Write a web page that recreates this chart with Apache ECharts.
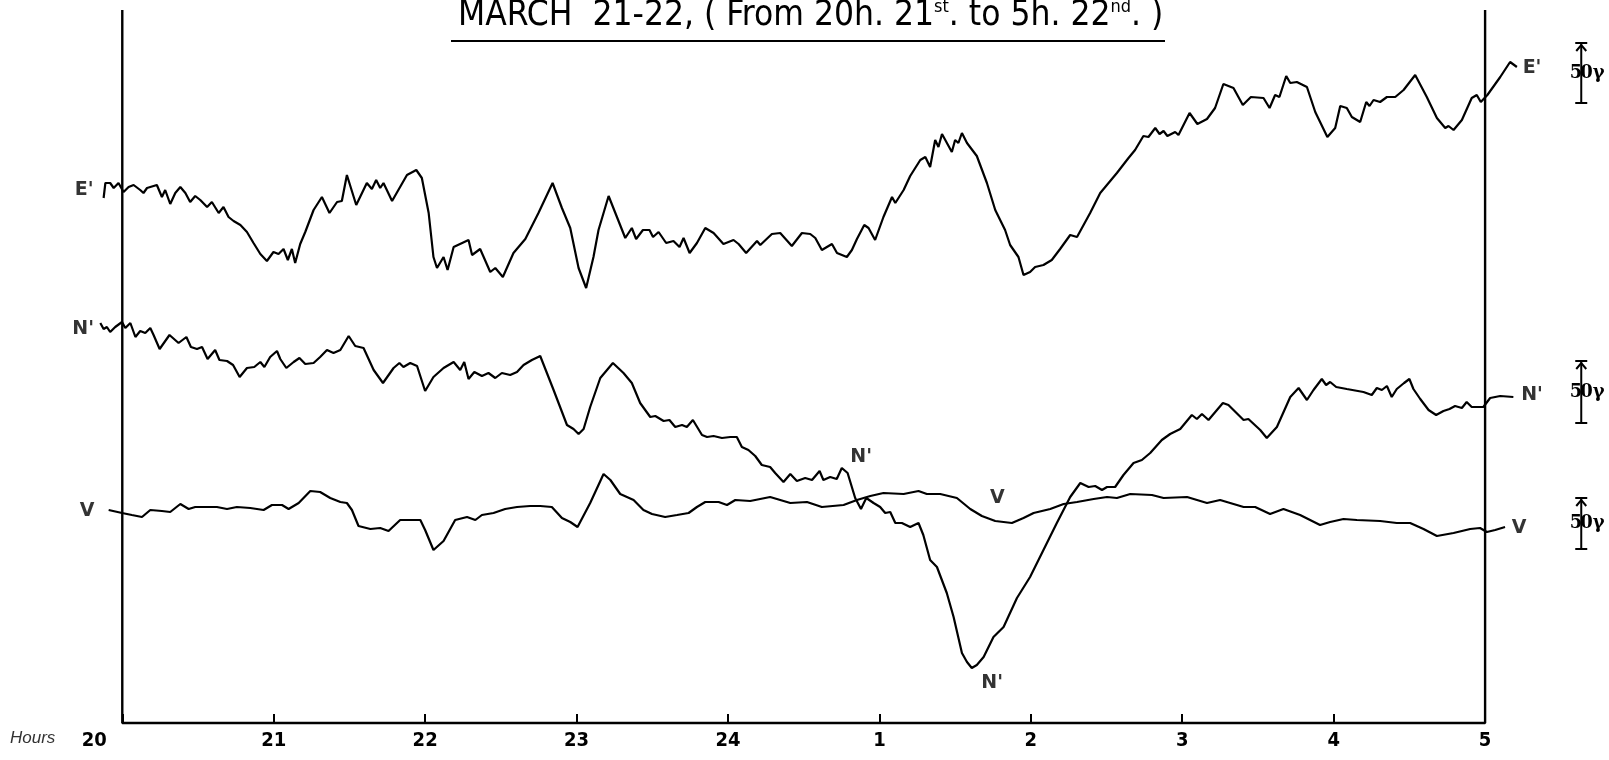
<!DOCTYPE html>
<html>
<head>
<meta charset="utf-8">
<script src="https://cdn.jsdelivr.net/npm/echarts@6/dist/echarts.min.js"></script>
<style>
  html, body { margin: 0; padding: 0; background: #fff; }
  #chart { width: 1609px; height: 760px; }
</style>
</head>
<body>
<div id="chart"></div>
<script>
// time axis: minutes after 20h (0 .. 540 = 5h next day)
var hourTicks = [0, 60, 120, 180, 240, 300, 360, 420, 480, 540];
var hourLabels = ['20', '21', '22', '23', '24', '1', '2', '3', '4', '5'];

var eTime = [-7.4, -6.7, -4.8, -3.4, -1.5, 0.5, 2.5, 4.5, 7.1, 8.4, 9.8, 13.7, 15.7, 17.0, 19.0, 21.0, 23.0, 25.0, 26.9, 28.9,
  30.9, 33.6, 35.5, 38.2, 40.1, 42.1, 44.1, 46.8, 49.4, 52.0, 54.7, 57.3, 59.9, 61.9, 63.9, 65.6, 67.2, 68.5, 70.5, 72.5,
  75.8, 79.1, 82.1, 85.1, 87.0, 89.0, 92.7, 96.9, 98.9, 100.6, 102.2, 103.5, 106.9, 112.8, 116.5, 118.7, 121.4, 123.3, 124.7, 127.3,
  128.9, 131.3, 137.2, 138.6, 141.8, 145.8, 147.8, 150.8, 155.0, 159.7, 164.9, 170.5, 174.2, 177.5, 180.8, 183.8, 186.7, 188.7, 192.7, 196.0,
  199.3, 201.9, 203.6, 206.3, 208.9, 210.3, 212.5, 215.5, 218.4, 220.8, 222.4, 224.8, 227.7, 231.0, 234.3, 238.2, 242.2, 244.2, 247.2, 251.5,
  252.8, 257.4, 260.7, 265.3, 269.3, 272.6, 274.6, 277.2, 281.2, 283.2, 287.1, 289.1, 291.1, 294.0, 295.7, 298.3, 301.6, 305.0, 306.3, 309.6,
  312.2, 316.2, 318.2, 320.1, 322.1, 323.4, 324.8, 328.7, 330.0, 331.3, 332.7, 334.7, 338.6, 342.6, 345.9, 349.8, 351.8, 355.1, 357.1, 359.7,
  361.7, 365.0, 368.3, 371.6, 375.6, 378.3, 383.5, 387.5, 390.8, 394.1, 398.7, 401.3, 404.6, 406.6, 409.3, 411.0, 412.6, 414.1, 417.2, 418.5,
  422.9, 426.0, 429.8, 433.0, 436.3, 440.3, 444.0, 447.2, 452.2, 454.6, 456.8, 458.5, 461.2, 462.8, 465.4, 469.4, 472.7, 477.5, 480.6, 482.6,
  485.2, 487.2, 490.5, 492.9, 494.2, 495.8, 498.4, 501.1, 504.4, 507.7, 512.3, 516.9, 520.9, 524.2, 525.5, 527.5, 530.8, 534.7, 536.7, 538.3,
  540.9, 546.0, 549.9, 552.6];
var eVal = [525, 540, 540, 535, 540, 531, 536, 538, 533, 530, 535, 538, 526, 533, 519, 530, 536, 530, 521, 527,
  523, 516, 521, 510, 516, 506, 502, 498, 491, 480, 469, 462, 471, 469, 474, 463, 474, 460, 479, 491,
  513, 526, 510, 521, 522, 548, 518, 540, 534, 543, 535, 540, 522, 548, 553, 545, 510, 466, 455, 466,
  453, 476, 483, 468, 474, 451, 455, 446, 470, 484, 510, 540, 515, 495, 455, 435, 466, 493, 527, 506,
  485, 495, 484, 493, 493, 486, 491, 480, 482, 476, 485, 470, 480, 495, 490, 479, 483, 479, 470, 482,
  478, 489, 490, 477, 490, 489, 485, 473, 479, 470, 466, 473, 484, 498, 495, 483, 506, 526, 520, 533,
  547, 563, 566, 556, 583, 576, 589, 571, 583, 580, 590, 580, 567, 540, 513, 493, 478, 466, 448, 451,
  456, 458, 463, 474, 488, 486, 510, 530, 540, 550, 565, 573, 587, 586, 595, 589, 592, 587, 591, 588,
  610, 599, 604, 615, 639, 635, 618, 626, 625, 615, 628, 626, 647, 640, 641, 636, 611, 586, 595, 617,
  615, 606, 601, 621, 617, 623, 621, 626, 626, 633, 648, 626, 605, 595, 597, 593, 603, 625, 628, 621,
  628, 646, 661, 656];

var nTime = [-8.7, -7.4, -6.1, -4.8, -2.8, -0.1, 1.2, 3.2, 5.2, 7.1, 9.1, 11.1, 12.4, 14.8, 18.7, 22.3, 25.4, 27.2, 29.6, 31.6,
  33.8, 36.8, 38.5, 41.5, 43.9, 46.5, 49.4, 52.3, 54.7, 56.3, 58.6, 61.3, 62.6, 65.0, 67.9, 70.2, 72.5, 75.8, 78.4, 81.1,
  83.7, 86.4, 89.7, 92.3, 95.6, 99.6, 103.3, 107.5, 109.8, 111.4, 114.1, 116.8, 120.0, 123.3, 127.3, 131.3, 133.9, 135.5, 137.2, 139.5,
  142.5, 145.1, 147.8, 150.4, 153.7, 156.4, 159.0, 162.3, 165.6, 170.9, 176.2, 178.8, 180.8, 182.8, 185.4, 189.4, 194.4, 198.6, 201.9, 205.2,
  209.2, 211.2, 214.5, 216.8, 219.1, 221.8, 223.7, 226.1, 229.7, 231.7, 234.3, 237.6, 240.9, 243.5, 245.5, 248.1, 250.8, 253.4, 256.7, 258.7,
  262.0, 264.7, 267.3, 270.6, 273.3, 276.3, 277.8, 280.5, 283.1, 285.1, 287.4, 290.4, 292.7, 294.8, 297.7, 300.3, 302.3, 304.3, 306.3, 308.9,
  312.2, 315.5, 317.4, 320.1, 322.8, 326.7, 329.4, 332.7, 334.7, 336.6, 338.6, 341.3, 345.2, 349.2, 354.5, 359.7, 365.0, 370.3, 375.6, 379.6,
  382.9, 385.5, 388.2, 390.2, 393.4, 396.7, 400.7, 404.0, 407.3, 411.9, 415.2, 419.2, 423.8, 425.8, 427.8, 430.4, 436.1, 438.3, 444.3, 446.2,
  450.9, 453.5, 457.5, 462.8, 466.1, 469.4, 472.0, 475.3, 477.0, 478.6, 481.0, 485.2, 491.8, 495.1, 497.1, 499.1, 501.1, 503.0, 505.0, 507.9,
  510.0, 511.6, 514.3, 517.6, 520.6, 523.5, 525.9, 528.1, 530.8, 532.7, 534.7, 539.3, 542.0, 546.0, 551.2];
var nVal = [400, 394, 396, 391, 396, 401, 395, 400, 386, 392, 390, 395, 388, 374, 388, 380, 386, 376, 374, 376,
  364, 373, 363, 362, 358, 346, 355, 356, 361, 356, 366, 372, 364, 355, 361, 365, 359, 360, 366, 373,
  370, 373, 387, 377, 375, 353, 340, 355, 360, 356, 360, 357, 332, 346, 355, 361, 353, 361, 344, 351,
  347, 350, 345, 350, 348, 351, 358, 363, 367, 333, 298, 294, 289, 294, 316, 345, 360, 350, 340, 320,
  306, 307, 302, 303, 296, 298, 296, 303, 288, 286, 287, 285, 286, 286, 276, 273, 267, 258, 256, 250,
  241, 249, 242, 245, 243, 252, 243, 246, 244, 255, 250, 225, 214, 225, 220, 216, 210, 211, 200, 200,
  196, 200, 188, 163, 156, 130, 106, 70, 61, 55, 58, 66, 86, 96, 125, 146, 173, 200, 226, 240,
  236, 237, 233, 236, 236, 248, 260, 263, 270, 283, 289, 294, 308, 304, 309, 303, 320, 318, 303, 304,
  293, 285, 296, 326, 335, 323, 333, 344, 338, 341, 336, 334, 331, 328, 335, 333, 337, 326, 334, 340,
  344, 334, 324, 313, 308, 312, 314, 317, 315, 321, 316, 316, 325, 327, 326];

var vTime = [-5.4, -0.1, 3.8, 7.8, 11.1, 15.7, 19.0, 23.0, 26.3, 28.9, 34.2, 37.5, 41.5, 45.4, 50.7, 56.0, 59.3, 63.3, 65.9, 69.9,
  74.5, 78.4, 82.4, 86.4, 89.0, 91.0, 93.6, 98.3, 102.2, 105.5, 110.1, 118.1, 120.0, 123.3, 127.3, 131.9, 136.6, 139.9, 142.5, 147.1,
  151.7, 156.4, 161.6, 165.6, 170.2, 174.2, 177.5, 180.4, 185.4, 190.7, 193.4, 197.3, 202.6, 206.5, 209.9, 215.1, 219.8, 224.4, 227.7, 231.0,
  236.3, 239.6, 242.9, 248.8, 256.7, 264.7, 271.3, 277.2, 285.8, 291.1, 296.4, 301.6, 309.6, 315.5, 318.8, 324.1, 330.7, 336.0, 340.6, 345.9,
  352.5, 357.1, 361.1, 367.7, 373.0, 378.3, 384.9, 390.2, 394.1, 399.4, 408.0, 412.6, 421.9, 429.8, 435.0, 444.3, 448.9, 454.8, 460.1, 466.7,
  474.6, 478.6, 483.9, 489.2, 498.4, 505.0, 510.3, 515.6, 520.9, 527.5, 534.1, 538.0, 540.7, 544.0, 547.9];
var vVal = [213, 210, 208, 206, 213, 212, 211, 219, 214, 216, 216, 216, 214, 216, 215, 213, 218, 218, 214, 220,
  232, 231, 225, 221, 220, 213, 197, 194, 195, 192, 203, 203, 193, 173, 182, 203, 206, 203, 208, 210,
  214, 216, 217, 217, 216, 205, 201, 196, 220, 249, 243, 229, 223, 213, 209, 206, 208, 210, 216, 221,
  221, 218, 223, 222, 226, 220, 221, 216, 218, 223, 227, 230, 229, 232, 229, 229, 225, 214, 207, 202,
  200, 205, 210, 214, 219, 221, 224, 226, 225, 229, 228, 225, 226, 220, 223, 216, 216, 209, 214, 208,
  198, 201, 204, 203, 202, 200, 200, 194, 187, 190, 194, 195, 191, 193, 196];

// recording frame: left edge, base line, right edge
var frameTime = [0, 0, 540, 540];
var frameVal = [713, 0, 0, 713];

// trace names written on the record
var traceLabels = [
  { name: "E'", value: [-15.1, 533] },
  { name: "N'", value: [-15.5, 394] },
  { name: 'V', value: [-13.9, 212] },
  { name: "E'", value: [558.6, 655] },
  { name: "N'", value: [558.6, 328] },
  { name: 'V', value: [553.5, 195] },
  { name: "N'", value: [292.8, 266] },
  { name: 'V', value: [346.7, 225] },
  { name: "N'", value: [344.7, 40] }
];

// 50 gamma scale marks: [time, bottom, top]
var scaleBars = [
  [578.1, 620, 680],
  [578.1, 300, 362],
  [578.1, 174, 225]
];

var zip = function(t, v) {
  var out = [];
  for (var i = 0; i < t.length; i++) {
    out.push([t[i], v[i]]);
  }
  return out;
};

var makeTrace = function(name, t, v) {
  return {
    name: name,
    type: 'line',
    data: zip(t, v),
    showSymbol: false,
    clip: false,
    lineStyle: { color: '#000', width: 2.2 },
    z: 3
  };
};

var labelFont = '"Liberation Sans Narrow", "DejaVu Sans Condensed", sans-serif';

var chart = echarts.init(document.getElementById('chart'));

var options = {
  animation: false,
  backgroundColor: '#fff',
  title: {
    left: 453,
    top: -7,
    text: "MARCH  21-22, ( From 20h. 21{s|st}. to 5h. 22{s|nd}. )",
    textStyle: {
      fontFamily: labelFont,
      fontSize: 35,
      fontWeight: 'normal',
      color: '#000',
      rich: {
        s: {
          fontFamily: labelFont,
          fontSize: 18,
          verticalAlign: 'top',
          padding: [0, 0, 14, 0],
          color: '#000'
        }
      }
    }
  },
  graphic: [
    { type: 'line', shape: { x1: 451, y1: 41, x2: 1165, y2: 41 }, style: { stroke: '#000', lineWidth: 2 } },
    { type: 'text', left: 10, top: 730, style: { text: 'Hours', font: 'italic 17px "Liberation Sans", sans-serif', fill: '#333' } }
  ],
  grid: { left: 92, right: 81, top: 10, bottom: 37 },
  xAxis: {
    type: 'value',
    min: -12,
    max: 557,
    splitLine: { show: false },
    axisLine: { show: false },
    axisTick: {
      inside: true,
      length: 9,
      customValues: hourTicks,
      lineStyle: { color: '#000', width: 2 }
    },
    axisLabel: {
      margin: 8,
      customValues: hourTicks,
      color: '#000',
      fontSize: 20,
      fontWeight: 'bold',
      fontFamily: labelFont,
      formatter: function(value) {
        var s = hourLabels[Math.round(value / 60)];
        if (value === 0) {
          return '{f|' + s + '}';
        }
        return s;
      },
      rich: {
        f: {
          fontSize: 20,
          fontWeight: 'bold',
          fontFamily: labelFont,
          color: '#000',
          padding: [0, 56, 0, 0]
        }
      }
    }
  },
  yAxis: {
    type: 'value',
    min: 0,
    max: 713,
    show: false
  },
  series: [
    {
      name: 'frame',
      type: 'line',
      data: zip(frameTime, frameVal),
      showSymbol: false,
      clip: false,
      lineStyle: { color: '#000', width: 2.4 },
      z: 2
    },
    makeTrace("E'", eTime, eVal),
    makeTrace("N'", nTime, nVal),
    makeTrace('V', vTime, vVal),
    {
      name: 'labels',
      type: 'scatter',
      data: traceLabels,
      symbolSize: 1,
      clip: false,
      itemStyle: { color: 'rgba(0,0,0,0)' },
      label: {
        show: true,
        position: 'inside',
        formatter: '{b}',
        color: '#000',
        fontSize: 19,
        fontWeight: 'bold',
        fontFamily: '"DejaVu Sans", sans-serif'
      },
      z: 5
    },
    {
      name: 'scale',
      type: 'custom',
      data: scaleBars,
      clip: false,
      renderItem: function(params, api) {
        var x = api.value(0);
        var lo = api.coord([x, api.value(1)]);
        var hi = api.coord([x, api.value(2)]);
        var midY = (lo[1] + hi[1]) / 2;
        var st = { stroke: '#000', lineWidth: 2, fill: null };
        return {
          type: 'group',
          children: [
            { type: 'line', shape: { x1: lo[0], y1: lo[1], x2: hi[0], y2: hi[1] }, style: st },
            { type: 'line', shape: { x1: hi[0] - 6, y1: hi[1], x2: hi[0] + 6, y2: hi[1] }, style: st },
            { type: 'polyline', shape: { points: [[hi[0] - 5, hi[1] + 8], [hi[0], hi[1] + 2], [hi[0] + 5, hi[1] + 8]] }, style: st },
            { type: 'line', shape: { x1: lo[0] - 6, y1: lo[1], x2: lo[0] + 6, y2: lo[1] }, style: st },
            { type: 'text', style: { text: '5', x: lo[0] + 1, y: midY, align: 'right', verticalAlign: 'middle',
              font: 'bold 18px "DejaVu Serif", serif', fill: '#000' } },
            { type: 'text', style: { text: '0γ', x: lo[0] - 1, y: midY, align: 'left', verticalAlign: 'middle',
              font: 'bold 18px "DejaVu Serif", serif', fill: '#000' } }
          ]
        };
      }
    }
  ]
};

chart.setOption(options);
</script>
</body>
</html>
